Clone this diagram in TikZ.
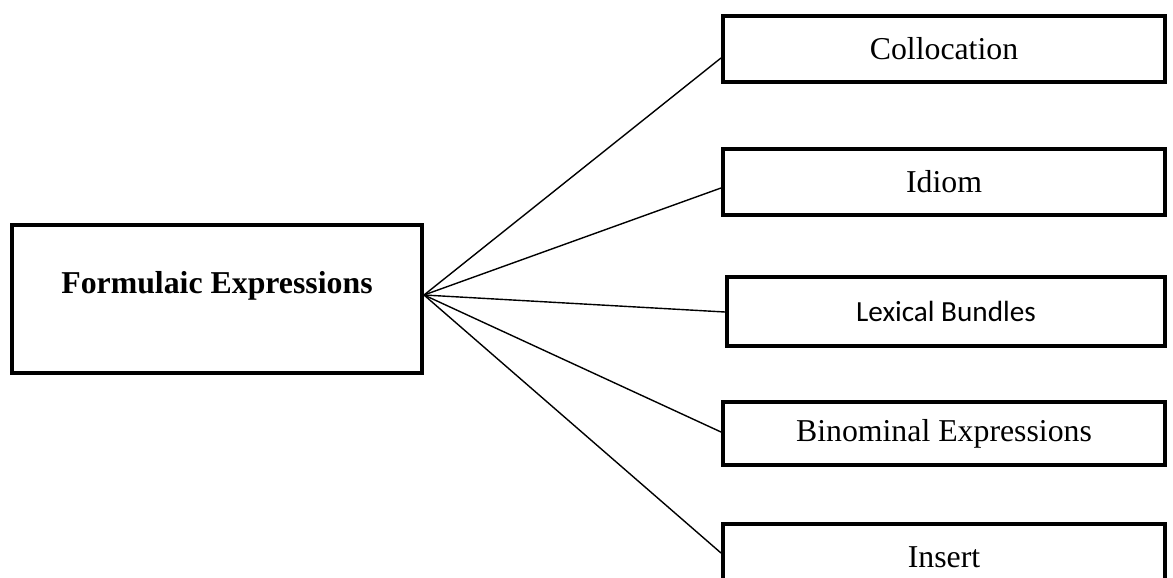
\documentclass[tikz,border=0pt]{standalone}
\usepackage{fontspec}
\setmainfont{Liberation Serif}
\newfontfamily\calibrifont{Carlito}
\begin{document}
\begin{tikzpicture}[x=1pt,y=-1pt,
  box/.style={draw=black, line width=4pt, rectangle, inner sep=0pt, minimum width=442pt, minimum height=66pt, font=\fontsize{31.8}{36}\selectfont},
  conn/.style={draw=black, line width=1.4pt}]
\useasboundingbox (0,0) rectangle (1173,578);
\clip (0,0) rectangle (1173,578);
\node[draw=black, line width=4pt, rectangle, inner sep=0pt, minimum width=410pt, minimum height=148pt] (main) at (217,299) {};
\node[font=\fontsize{31.8}{36}\selectfont\bfseries, anchor=base] (maintext) at (217,293) {Formulaic Expressions};
\coordinate (fan) at (424,295);
\node[box] (colloc) at (944,49) {Collocation};
\node[box] (idiom) at (944,181.5) {Idiom};
\node[box, minimum width=438pt, minimum height=69pt, font=\calibrifont\fontsize{29.2}{34}\selectfont] (lex) at (946,311.5) {Lexical Bundles};
\node[box, minimum height=63pt] (binom) at (944,433.5) {Binominal Expressions};
\node[box] (insert) at (944,557) {Insert};
\draw[conn] (fan) -- (colloc.west |- 0,58);
\draw[conn] (fan) -- (idiom.west |- 0,188);
\draw[conn] (fan) -- (lex.west |- 0,312);
\draw[conn] (fan) -- (binom.west |- 0,432);
\draw[conn] (fan) -- (insert.west |- 0,553);
\end{tikzpicture}
\end{document}
